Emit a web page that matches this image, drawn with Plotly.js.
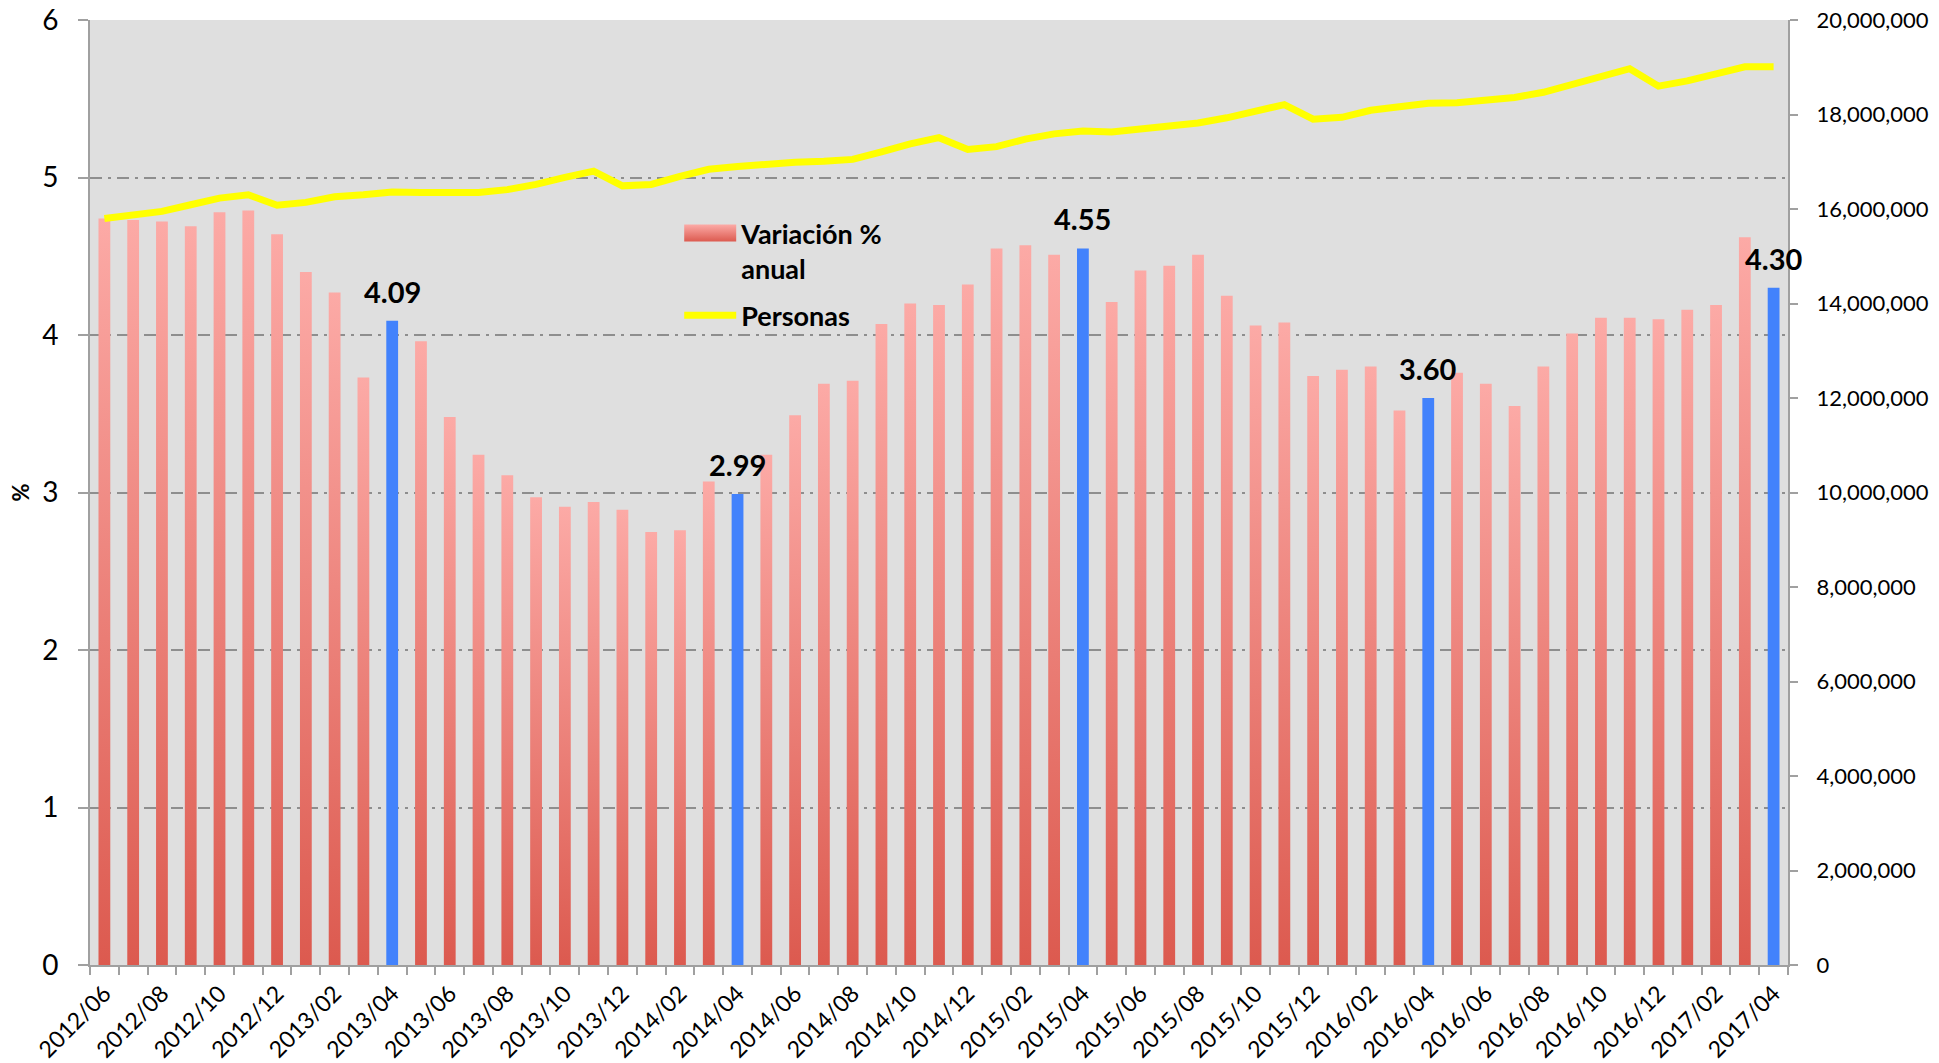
<!DOCTYPE html>
<html>
<head>
<meta charset="utf-8">
<script src="https://cdn.plot.ly/plotly-3.0.1.min.js"></script>
<style>
  html, body { margin: 0; padding: 0; background: #fff; }
  #chart { width: 1939px; height: 1063px; }
</style>
</head>
<body>
<div id="chart"></div>
<script>
const months = [
  '2012/06','2012/07','2012/08','2012/09','2012/10','2012/11','2012/12',
  '2013/01','2013/02','2013/03','2013/04','2013/05','2013/06','2013/07','2013/08','2013/09','2013/10','2013/11','2013/12',
  '2014/01','2014/02','2014/03','2014/04','2014/05','2014/06','2014/07','2014/08','2014/09','2014/10','2014/11','2014/12',
  '2015/01','2015/02','2015/03','2015/04','2015/05','2015/06','2015/07','2015/08','2015/09','2015/10','2015/11','2015/12',
  '2016/01','2016/02','2016/03','2016/04','2016/05','2016/06','2016/07','2016/08','2016/09','2016/10','2016/11','2016/12',
  '2017/01','2017/02','2017/03','2017/04'
];

const variacion = [
  4.74, 4.73, 4.72, 4.69, 4.78, 4.79, 4.64,
  4.40, 4.27, 3.73, 4.09, 3.96, 3.48, 3.24, 3.11, 2.97, 2.91, 2.94, 2.89,
  2.75, 2.76, 3.07, 2.99, 3.24, 3.49, 3.69, 3.71, 4.07, 4.20, 4.19, 4.32,
  4.55, 4.57, 4.51, 4.55, 4.21, 4.41, 4.44, 4.51, 4.25, 4.06, 4.08, 3.74,
  3.78, 3.80, 3.52, 3.60, 3.76, 3.69, 3.55, 3.80, 4.01, 4.11, 4.11, 4.10,
  4.16, 4.19, 4.62, 4.30
];

const personas = [
  15800000, 15860000, 15950000, 16090000, 16230000, 16300000, 16080000,
  16140000, 16260000, 16300000, 16360000, 16350000, 16350000, 16350000, 16410000, 16520000, 16670000, 16800000, 16490000,
  16520000, 16690000, 16840000, 16900000, 16950000, 16990000, 17010000, 17050000, 17210000, 17380000, 17510000, 17260000,
  17320000, 17480000, 17590000, 17650000, 17630000, 17700000, 17750000, 17820000, 17930000, 18070000, 18210000, 17900000,
  17940000, 18090000, 18150000, 18240000, 18250000, 18320000, 18360000, 18470000, 18640000, 18810000, 18970000, 18600000,
  18710000, 18860000, 19010000, 19010000
];

const highlightSuffix = '/04';
const barSeriesName = 'Variación %<br>anual';
const lineSeriesName = 'Personas';

const isHighlight = months.map(m => m.endsWith(highlightSuffix));
const tickText = months.map((m, i) => (i % 2 === 0 ? m : ''));

const FONT = 'Lato, "Open Sans", sans-serif';
const BLUE = '#4282FC';
const PINK = '#F59893';

const barTrace = {
  type: 'bar',
  name: barSeriesName,
  legendgroup: 'g1',
  x: months,
  y: variacion,
  marker: { color: isHighlight.map(h => (h ? BLUE : PINK)), line: { width: 0 } },
  hoverinfo: 'x+y'
};

const lineTrace = {
  type: 'scatter',
  mode: 'lines',
  name: lineSeriesName,
  legendgroup: 'g2',
  x: months,
  y: personas,
  yaxis: 'y2',
  line: { color: '#FFFF00', width: 7 }
};

const annotations = months
  .map((m, i) => ({ m, i }))
  .filter(o => isHighlight[o.i])
  .map(o => ({
    x: o.m,
    y: variacion[o.i],
    xref: 'x',
    yref: 'y',
    text: variacion[o.i].toFixed(2),
    showarrow: false,
    yanchor: 'bottom',
    yshift: 10,
    font: { family: FONT, size: 29, color: '#000', weight: 'bold' }
  }));

const layout = {
  width: 1939,
  height: 1063,
  margin: { l: 90, r: 151, t: 20, b: 98 },
  paper_bgcolor: '#ffffff',
  plot_bgcolor: '#DFDFDF',
  font: { family: FONT, color: '#000' },
  bargap: 0.59,
  showlegend: true,
  legend: {
    x: 0.347, y: 0.80, xanchor: 'left', yanchor: 'top',
    bgcolor: 'rgba(0,0,0,0)',
    font: { family: FONT, size: 27, color: '#000', weight: 'bold' },
    itemwidth: 52,
    traceorder: 'grouped',
    tracegroupgap: 9
  },
  xaxis: {
    type: 'category',
    categoryarray: months,
    range: [-0.5, months.length - 0.5],
    autorange: false,
    tickmode: 'array',
    tickvals: months,
    ticktext: tickText,
    tickangle: -45,
    tickson: 'boundaries',
    ticks: 'outside',
    ticklen: 8,
    tickwidth: 2,
    tickcolor: '#A0A0A0',
    ticklabelstandoff: 4,
    showline: true,
    linecolor: '#A0A0A0',
    linewidth: 2,
    showgrid: false,
    tickfont: { family: FONT, size: 23, color: '#000' }
  },
  yaxis: {
    range: [0, 6],
    autorange: false,
    dtick: 1,
    showgrid: true,
    gridcolor: '#8E8E8E',
    gridwidth: 2,
    griddash: '12px,6px,3px,6px',
    zeroline: false,
    showline: true,
    linecolor: '#A0A0A0',
    linewidth: 2,
    ticks: 'outside',
    ticklen: 10,
    tickwidth: 2,
    tickcolor: '#A0A0A0',
    ticklabelstandoff: 14,
    tickfont: { family: FONT, size: 28, color: '#000' },
    title: { text: '%', font: { family: FONT, size: 22, color: '#000', weight: 'bold' }, standoff: 6 }
  },
  yaxis2: {
    overlaying: 'y',
    side: 'right',
    range: [0, 20000000],
    autorange: false,
    dtick: 2000000,
    tickformat: ',d',
    showgrid: false,
    zeroline: false,
    showline: true,
    linecolor: '#A0A0A0',
    linewidth: 2,
    ticks: 'outside',
    ticklen: 8,
    tickwidth: 2,
    tickcolor: '#A0A0A0',
    ticklabelstandoff: 14,
    tickfont: { family: FONT, size: 22, color: '#000' }
  },
  annotations: annotations
};

Plotly.newPlot('chart', [barTrace, lineTrace], layout, { displayModeBar: false, staticPlot: true }).then(gd => {
  const ns = 'http://www.w3.org/2000/svg';
  const svg = gd.querySelector('svg.main-svg');
  let defs = svg.querySelector('defs');
  if (!defs) { defs = document.createElementNS(ns, 'defs'); svg.insertBefore(defs, svg.firstChild); }
  const grad = document.createElementNS(ns, 'linearGradient');
  grad.setAttribute('id', 'barGrad');
  grad.setAttribute('x1', '0'); grad.setAttribute('y1', '0');
  grad.setAttribute('x2', '0'); grad.setAttribute('y2', '1');
  [['0', '#FCAAA6'], ['1', '#DC5A4F']].forEach(([off, col]) => {
    const s = document.createElementNS(ns, 'stop');
    s.setAttribute('offset', off);
    s.setAttribute('stop-color', col);
    grad.appendChild(s);
  });
  defs.appendChild(grad);
  gd.querySelectorAll('.barlayer .point path').forEach((p, i) => {
    if (!isHighlight[i]) p.style.fill = 'url(#barGrad)';
  });
  const legendBar = gd.querySelector('.legend .legendpoints path');
  if (legendBar) {
    legendBar.style.fill = 'url(#barGrad)';
    legendBar.setAttribute('d', 'M26,-9H-26V-26H26Z');
  }
});
</script>
</body>
</html>
